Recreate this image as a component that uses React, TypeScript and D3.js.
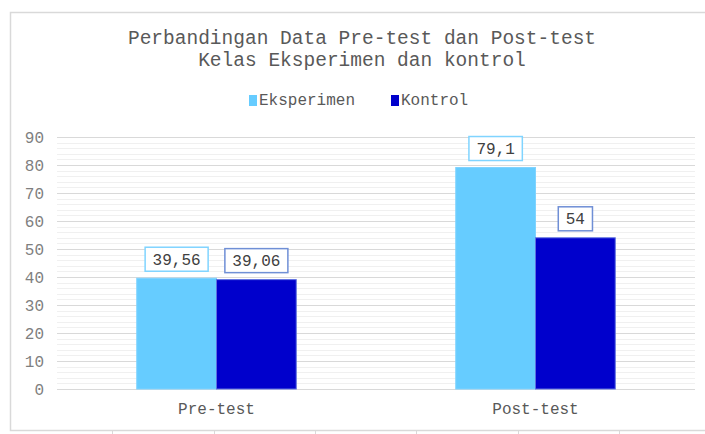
import * as d3 from 'd3';

const categories = ['Pre-test', 'Post-test'];
const seriesNames = ['Eksperimen', 'Kontrol'];
const eksperimen = [39.56, 79.1];
const kontrol = [39.06, 54];
const valueLabels = [
  ['39,56', '79,1'],
  ['39,06', '54'],
];
const yTicks = [0, 10, 20, 30, 40, 50, 60, 70, 80, 90];
const minorTicks = d3.range(0, 91, 2);
const titleLines = ['Perbandingan Data Pre-test dan Post-test', 'Kelas Eksperimen dan kontrol'];

const FONT = '"Liberation Mono", "Courier New", monospace';
const fills = ['#66CCFF', '#0000CC'];
const strokes = ['#7fd3ff', '#5d6fe0'];
const labelStrokes = ['#80d4ff', '#6f8fd6'];

export default function App() {
  const W = 705;
  const H = 434;
  const plot = { left: 57, right: 695, top: 137, bottom: 389 };

  const x0 = d3.scaleBand<string>().domain(categories).range([plot.left, plot.right]).paddingInner(0).paddingOuter(0);
  const groupW = x0.bandwidth() / 2;
  const x1 = d3.scaleBand<string>().domain(seriesNames).range([0, groupW]);
  const y = d3.scaleLinear().domain([0, 90]).range([plot.bottom, plot.top]);

  const series = [eksperimen, kontrol];
  const charW = 9.6;

  return (
    <svg width={W} height={H} style={{ position: 'absolute', left: 0, top: 0, background: '#fff' }} fontFamily={FONT}>
      {/* frame */}
      <rect x={10.5} y={12.5} width={710} height={418} fill="#fff" stroke="#d9d9d9" strokeWidth={1.5} />
      {[112, 214, 315, 416, 518, 619].map((t) => (
        <line key={t} x1={t + 0.5} x2={t + 0.5} y1={431} y2={434} stroke="#d9d9d9" />
      ))}

      {/* title */}
      {titleLines.map((t, i) => (
        <text key={t} x={362} y={44 + i * 22} textAnchor="middle" fontSize={19.5} fill="#595959">
          {t}
        </text>
      ))}

      {/* legend */}
      {seriesNames.map((s, i) => {
        const lx = i === 0 ? 249 : 391;
        return (
          <g key={s}>
            <rect x={lx} y={95} width={8} height={11} fill={fills[i]} />
            <text x={lx + 10} y={105} fontSize={16} fill="#595959">
              {s}
            </text>
          </g>
        );
      })}

      {/* gridlines */}
      {minorTicks.filter((v) => v % 10 !== 0).map((v) => (
        <line key={`m${v}`} x1={plot.left} x2={plot.right} y1={Math.round(y(v)) + 0.5} y2={Math.round(y(v)) + 0.5} stroke="#f0f0f0" />
      ))}
      {yTicks.map((v) => (
        <line key={`g${v}`} x1={plot.left} x2={plot.right} y1={Math.round(y(v)) + 0.5} y2={Math.round(y(v)) + 0.5} stroke="#d9d9d9" />
      ))}

      {/* y labels */}
      {yTicks.map((v) => (
        <text key={`yl${v}`} x={44} y={y(v)} dy="0.35em" textAnchor="end" fontSize={16} fill="#7f7f7f">
          {v}
        </text>
      ))}

      {/* bars */}
      {categories.map((c, ci) => {
        const gx = (x0(c) ?? 0) + x0.bandwidth() / 4;
        return (
          <g key={c}>
            {seriesNames.map((s, si) => {
              const v = series[si][ci];
              const bx = gx + (x1(s) ?? 0);
              return (
                <rect
                  key={s}
                  x={bx}
                  y={y(v)}
                  width={x1.bandwidth()}
                  height={y(0) - y(v)}
                  fill={fills[si]}
                  stroke={strokes[si]}
                  strokeWidth={1}
                />
              );
            })}
            {seriesNames.map((s, si) => {
              const v = series[si][ci];
              const cx = gx + (x1(s) ?? 0) + x1.bandwidth() / 2;
              const txt = valueLabels[si][ci];
              const bw = txt.length * charW + 15;
              const bh = 24;
              const by = y(v) - 7 - bh;
              return (
                <g key={`l${s}`}>
                  <rect x={cx - bw / 2} y={by} width={bw} height={bh} fill="#fff" stroke={labelStrokes[si]} strokeWidth={1.5} />
                  <text x={cx} y={by + bh / 2} dy="0.35em" textAnchor="middle" fontSize={16} fill="#404040">
                    {txt}
                  </text>
                </g>
              );
            })}
            <text x={(x0(c) ?? 0) + x0.bandwidth() / 2} y={414} textAnchor="middle" fontSize={16} fill="#595959">
              {c}
            </text>
          </g>
        );
      })}
    </svg>
  );
}
